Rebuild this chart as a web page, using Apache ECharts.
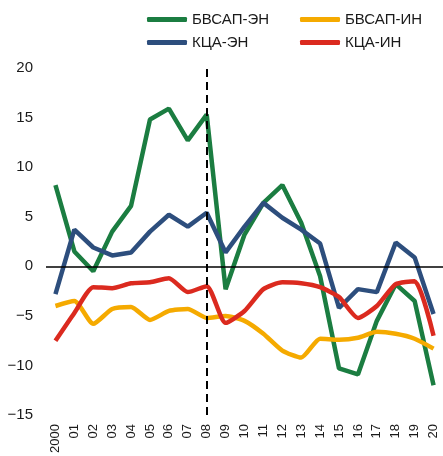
<!DOCTYPE html>
<html>
<head>
<meta charset="utf-8">
<script src="https://cdn.jsdelivr.net/npm/echarts@6/dist/echarts.min.js"></script>
<style>
html, body { margin: 0; padding: 0; background: #fff; }
#chart { width: 443px; height: 456px; }
</style>
</head>
<body>
<div id="chart"></div>
<script>
const years = ['2000', '01', '02', '03', '04', '05', '06', '07', '08', '09', '10',
  '11', '12', '13', '14', '15', '16', '17', '18', '19', '20']

// values
const bvsapEn = [8.2, 1.5, -0.5, 3.5, 6.1, 14.8, 15.9, 12.7, 15.3, -2.3, 3.2,
  6.4, 8.2, 4.4, -1.0, -10.3, -10.9, -5.5, -1.8, -3.5, -12.0]
const bvsapIn = [-4.0, -3.5, -5.8, -4.3, -4.1, -5.4, -4.5, -4.3, -5.2, -5.0, -5.5,
  -6.8, -8.5, -9.2, -7.3, -7.4, -7.2, -6.6, -6.8, -7.3, -8.3]
const kcaEn = [-2.8, 3.7, 1.9, 1.1, 1.4, 3.5, 5.2, 4.0, 5.4, 1.4, 4.0,
  6.4, 4.9, 3.7, 2.3, -4.2, -2.3, -2.6, 2.4, 0.9, -4.8]
const kcaIn = [-7.5, -4.7, -2.1, -2.2, -1.7, -1.6, -1.2, -2.6, -2.0, -5.7, -4.5,
  -2.3, -1.6, -1.7, -2.1, -3.1, -5.2, -4.0, -1.8, -1.5, -7.0]

const names = ['БВСАП-ЭН', 'БВСАП-ИН', 'КЦА-ЭН', 'КЦА-ИН']
const colors = ['#1b7d41', '#f5aa00', '#2d4e7d', '#db2a1f']
const breakYear = '08'

const font = 'Liberation Sans, Arial, sans-serif'

// one legend per item, laid out in two columns
const legendPos = [[147, 12], [300, 12], [147, 35], [300, 35]]
const legends = names.map((n, i) => ({
  data: [n],
  left: legendPos[i][0],
  top: legendPos[i][1],
  padding: 0,
  icon: 'roundRect',
  itemWidth: 40,
  itemHeight: 5,
  textStyle: { fontSize: 15, color: '#1a1a1a', fontFamily: font }
}))

const lineSeries = (name, data, color, smooth) => ({
  name: name,
  type: 'line',
  data: data,
  symbol: 'none',
  smooth: smooth,
  lineStyle: { width: 4.5, color: color },
  itemStyle: { color: color }
})

const series = [
  lineSeries(names[0], bvsapEn, colors[0], false),
  lineSeries(names[1], bvsapIn, colors[1], 0.2),
  lineSeries(names[2], kcaEn, colors[2], false),
  lineSeries(names[3], kcaIn, colors[3], 0.2)
]

// zero line and the dashed break at 2008
series[0].markLine = {
  silent: true,
  symbol: 'none',
  label: { show: false },
  data: [
    { yAxis: 0, lineStyle: { color: '#000', width: 1.5, type: 'solid' } },
    { xAxis: breakYear, lineStyle: { color: '#000', width: 2, type: [8, 5] } }
  ]
}

const option = {
  animation: false,
  backgroundColor: '#fff',
  legend: legends,
  grid: { left: 46, right: 0, top: 68, bottom: 40 },
  xAxis: {
    type: 'category',
    data: years,
    boundaryGap: true,
    axisLine: { show: false },
    axisTick: { show: false },
    axisLabel: {
      rotate: 90,
      margin: 9,
      interval: 0,
      fontSize: 13,
      color: '#1a1a1a',
      fontFamily: font
    }
  },
  yAxis: {
    type: 'value',
    min: -15,
    max: 20,
    interval: 5,
    axisLine: { show: false },
    axisTick: { show: false },
    splitLine: { show: false },
    axisLabel: {
      margin: 13,
      fontSize: 15,
      color: '#1a1a1a',
      fontFamily: font,
      formatter: v => String(v).replace('-', '\u2212')
    }
  },
  series: series
}

const chart = echarts.init(document.getElementById('chart'))
chart.setOption(option)
</script>
</body>
</html>
